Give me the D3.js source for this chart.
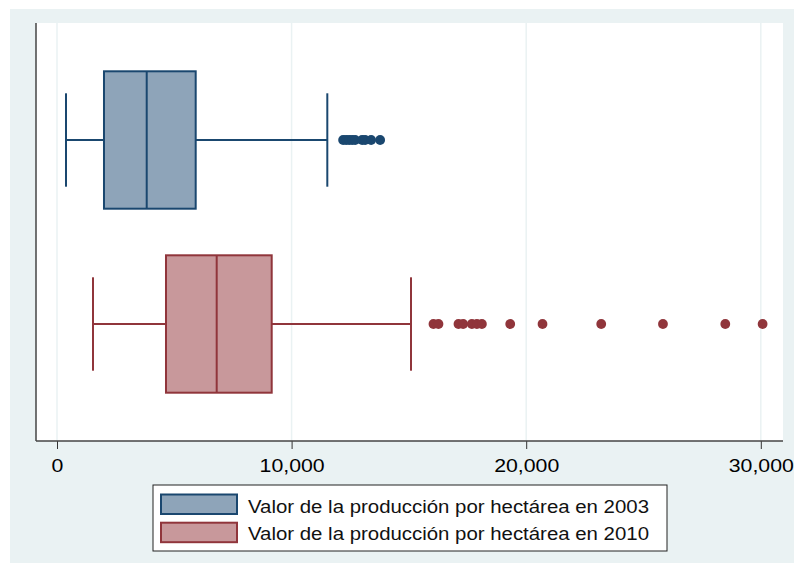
<!DOCTYPE html>
<html>
<head>
<meta charset="utf-8">
<script src="https://cdn.jsdelivr.net/npm/d3@7"></script>
<style>
  html, body { margin: 0; padding: 0; background: #ffffff; }
  svg { display: block; font-family: Arial, "Liberation Sans", sans-serif; }
</style>
</head>
<body>
<svg id="chart" width="794" height="564"></svg>
<script>
// Years shown, one box each
const years = ["2003", "2010"];
const legendLabels = [
  "Valor de la producción por hectárea en 2003",
  "Valor de la producción por hectárea en 2010"
];
// Box summaries: [lower whisker, Q1, median, Q3, upper whisker]
const summary2003 = [384, 2003, 3824, 5912, 11522];
const summary2010 = [1535, 4646, 6807, 9152, 15090];
// Points beyond the upper whisker
const outliers2003 = [12196, 12324, 12452, 12580, 12708, 13006, 13134, 13390, 13774];
const outliers2010 = [16047, 16260, 17113, 17313, 17684, 17898, 18111, 19318, 20695, 23198, 25829, 28486, 30077];
const tickValues = [0, 10000, 20000, 30000];

const strokeColors = ["#1a476f", "#90353b"];
const fillColors = ["#8ea4b9", "#c8989b"];
const summaries = [summary2003, summary2010];
const outlierSets = [outliers2003, outliers2010];

const svg = d3.select("#chart");
const W = 794, H = 564;

// Outer graph region
svg.append("rect").attr("x", 10).attr("y", 9).attr("width", W - 10).attr("height", H - 10)
  .attr("fill", "#eaf2f3");

const plot = { left: 36, right: 783, top: 23, bottom: 441 };
svg.append("rect").attr("x", plot.left).attr("y", plot.top)
  .attr("width", plot.right - plot.left).attr("height", plot.bottom - plot.top)
  .attr("fill", "#ffffff");

const x = d3.scaleLinear().domain([0, 30000]).range([57, 760.8]);
const y = d3.scalePoint().domain(years).range([140, 324]);
const boxHalf = 68.7;
const capHalf = 46.7;

// Vertical grid lines
svg.append("g").selectAll("line").data(tickValues).join("line")
  .attr("x1", d => x(d)).attr("x2", d => x(d))
  .attr("y1", plot.top).attr("y2", plot.bottom)
  .attr("stroke", "#eaf2f3").attr("stroke-width", 1.5);

// Boxes
years.forEach((yr, i) => {
  const s = summaries[i];
  const cy = y(yr);
  const g = svg.append("g")
    .attr("stroke", strokeColors[i]).attr("stroke-width", 2).attr("fill", "none");
  // whisker lines
  g.append("line").attr("x1", x(s[0])).attr("x2", x(s[1])).attr("y1", cy).attr("y2", cy);
  g.append("line").attr("x1", x(s[3])).attr("x2", x(s[4])).attr("y1", cy).attr("y2", cy);
  // caps
  [s[0], s[4]].forEach(v => {
    g.append("line").attr("x1", x(v)).attr("x2", x(v))
      .attr("y1", cy - capHalf).attr("y2", cy + capHalf);
  });
  // box
  g.append("rect").attr("x", x(s[1])).attr("y", cy - boxHalf)
    .attr("width", x(s[3]) - x(s[1])).attr("height", boxHalf * 2)
    .attr("fill", fillColors[i]);
  // median
  g.append("line").attr("x1", x(s[2])).attr("x2", x(s[2]))
    .attr("y1", cy - boxHalf).attr("y2", cy + boxHalf);
  // outliers
  svg.append("g").selectAll("circle").data(outlierSets[i]).join("circle")
    .attr("cx", d => x(d)).attr("cy", cy).attr("r", 4.9)
    .attr("fill", strokeColors[i]);
});

// Axes
const xAxis = d3.axisBottom(x).tickValues(tickValues)
  .tickFormat(d3.format(",")).tickSize(8).tickSizeOuter(0);
const gx = svg.append("g").attr("transform", `translate(0,${plot.bottom})`).call(xAxis);
gx.select(".domain").remove();
gx.selectAll(".tick line").attr("stroke", "#333").attr("stroke-width", 1);
gx.selectAll(".tick text").attr("fill", "#000").attr("font-size", 18.5)
  .attr("font-family", "Arial, 'Liberation Sans', sans-serif")
  .attr("y", 30.7).attr("dy", 0)
  .each(function () {
    // slightly wide lettering
    const w = this.getComputedTextLength();
    d3.select(this).attr("textLength", w * 1.15).attr("lengthAdjust", "spacingAndGlyphs");
  });

svg.append("line").attr("x1", plot.left).attr("x2", plot.right)
  .attr("y1", plot.bottom).attr("y2", plot.bottom)
  .attr("stroke", "#444").attr("stroke-width", 1.5);
svg.append("line").attr("x1", plot.left).attr("x2", plot.left)
  .attr("y1", plot.top).attr("y2", plot.bottom)
  .attr("stroke", "#444").attr("stroke-width", 1.5);

// Legend
const lg = svg.append("g");
lg.append("rect").attr("x", 153).attr("y", 485).attr("width", 514).attr("height", 66)
  .attr("fill", "#ffffff").attr("stroke", "#222").attr("stroke-width", 1);
legendLabels.forEach((lab, i) => {
  const top = 494.5 + i * 28.2;
  lg.append("rect").attr("x", 161).attr("y", top).attr("width", 76).attr("height", 19.5)
    .attr("fill", fillColors[i]).attr("stroke", strokeColors[i]).attr("stroke-width", 2);
  lg.append("text").attr("x", 248).attr("y", 512.8 + i * 26.7).text(lab)
    .attr("font-size", 18.7).attr("fill", "#111")
    .attr("textLength", 401).attr("lengthAdjust", "spacingAndGlyphs");
});
</script>
</body>
</html>
